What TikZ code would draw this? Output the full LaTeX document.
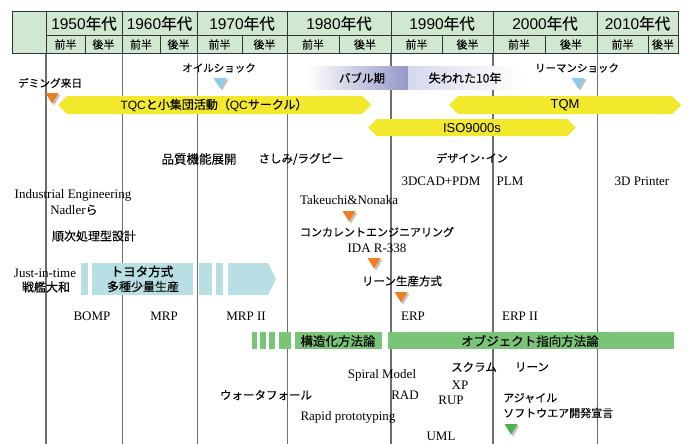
\documentclass[tikz,border=0pt]{standalone}
\usepackage{fontspec}
\setmainfont{Liberation Serif}
\newfontfamily\jp[RawFeature={embolden=0.2}]{Noto Sans CJK JP}
\newfontfamily\jpb[RawFeature={embolden=1.4}]{Noto Sans CJK JP}
\newfontfamily\ar{Liberation Sans}
\newcommand\fsz[1]{\fontsize{#1}{#1}\selectfont}
\definecolor{hdr}{HTML}{CFE8CF}
\definecolor{vline}{HTML}{6E6E6E}
\definecolor{ylw}{HTML}{F2E82C}
\definecolor{orng}{HTML}{EE7F22}
\definecolor{lblue}{HTML}{8ECBEA}
\definecolor{grn}{HTML}{7AC477}
\definecolor{dgrn}{HTML}{4CAF50}
\definecolor{toyo}{HTML}{B7DFE4}
\definecolor{bub}{HTML}{9498C9}
\definecolor{bubl}{HTML}{D6D8ED}
\definecolor{bubm}{HTML}{AEB2D8}
\tikzset{
  hline/.style={draw=black!80, line width=0.9pt},
  dec/.style={font=\ar\fsz{15.5}, inner sep=0pt},
  half/.style={font=\jp\fsz{11}, inner sep=0pt},
  jl/.style={font=\jp\fsz{11.5}, inner sep=0pt},
  jk/.style={font=\jp\fsz{12.5}, inner sep=0pt},
  en/.style={font=\fsz{13}, inner sep=0pt},
  bartext/.style={font=\jp\fsz{12.5}, inner sep=0pt},
  thinv/.style={draw=vline, line width=0.9pt},
  thickv/.style={draw=vline, line width=1.7pt},
}
\newcommand\tri[3]{% x, ytop, color
  \fill[black, opacity=0.25] (#1-4.5,#2+1.5) -- (#1+8.5,#2+1.5) -- (#1+2,#2+12.5) -- cycle;
  \fill[#3] (#1-6.5,#2) -- (#1+6.5,#2) -- (#1,#2+10.5) -- cycle;}
\newcommand\dbar[5]{% x1,x2,ytop,ybot,color
  \fill[#5] (#1,{(#3+#4)/2}) -- (#1+9,#3) -- (#2-9,#3) -- (#2,{(#3+#4)/2}) -- (#2-9,#4) -- (#1+9,#4) -- cycle;}
\begin{document}
\begin{tikzpicture}[x=1pt,y=-1pt]
\useasboundingbox (0,0) rectangle (688,444);
\fill[white] (0,0) rectangle (688,444);

% vertical timeline lines
\draw[thickv] (46,53) -- (46,444);
\draw[thinv] (122,53) -- (122,444);
\draw[thinv] (197,53) -- (197,444);
\draw[thinv] (287,53) -- (287,444);
\draw[thickv] (391,53) -- (391,444);
\draw[thickv] (493,53) -- (493,444);
\draw[thinv] (597,53) -- (597,444);

% header
\fill[hdr] (12,11) rectangle (678,53);
\draw[hline] (12,11) rectangle (678,53);
\draw[hline] (46,35) -- (678,35);
\foreach \x in {46,122,197,287,391,493,597} \draw[hline] (\x,11) -- (\x,53);
\foreach \x in {85,160,242,339,442,545,648} \draw[hline] (\x,35) -- (\x,53);
\node[dec] (d50) at (84,23.5) {1950{\jp 年代}};
\node[dec] (d60) at (159.5,23.5) {1960{\jp 年代}};
\node[dec] (d70) at (242,23.5) {1970{\jp 年代}};
\node[dec] (d80) at (339,23.5) {1980{\jp 年代}};
\node[dec] (d90) at (442,23.5) {1990{\jp 年代}};
\node[dec] (d00) at (545,23.5) {2000{\jp 年代}};
\node[dec] (d10) at (637.5,23.5) {2010{\jp 年代}};
\node[half] (h1) at (65.5,44.5) {前半};
\node[half] (h2) at (103.5,44.5) {後半};
\node[half] (h3) at (141,44.5) {前半};
\node[half] (h4) at (178.5,44.5) {後半};
\node[half] (h5) at (219.5,44.5) {前半};
\node[half] (h6) at (264.5,44.5) {後半};
\node[half] (h7) at (313,44.5) {前半};
\node[half] (h8) at (365,44.5) {後半};
\node[half] (h9) at (416.5,44.5) {前半};
\node[half] (h10) at (467.5,44.5) {後半};
\node[half] (h11) at (519,44.5) {前半};
\node[half] (h12) at (571,44.5) {後半};
\node[half] (h13) at (622.5,44.5) {前半};
\node[half] (h14) at (663,44.5) {後半};

% bubble / lost decade band
\shade[left color=white, right color=bub] (307,67) rectangle (408,89);
\shade[left color=bubl, middle color=bubm, right color=white] (408,67) rectangle (523,89);
\node[jl, font=\jp\fsz{11.5}] (bubble) at (362,78) {バブル期};
\node[jl, font=\jp\fsz{12}] (lost) at (465,78) {失われた10年};

% event labels + triangles
\node[jl, font=\jp\fsz{10.7}] (deming) at (50,83) {デミング来日};
\tri{52}{93}{orng}
\node[jl, font=\jp\fsz{10.5}] (oil) at (219,68) {オイルショック};
\tri{220}{78}{lblue}
\node[jl, font=\jp\fsz{10.5}] (lehman) at (577,68) {リーマンショック};
\tri{578}{78}{lblue}

% yellow bars
\dbar{58}{371}{96}{114}{ylw}
\node[bartext, font=\jp\fsz{12}] (tqc) at (214,105) {{\ar TQC}と小集団活動（{\ar QC}サークル）};
\dbar{449}{681}{96}{114}{ylw}
\node[bartext, font=\ar\fsz{13}] (tqm) at (565,105) {TQM};
\dbar{368}{576}{119}{136}{ylw}
\node[bartext, font=\ar\fsz{13}] (iso) at (472,128) {ISO9000s};

% design methods
\node[jk] (qfd) at (199,159) {品質機能展開};
\node[jl] (sashimi) at (301,159) {さしみ/ラグビー};
\node[jl, font=\jp\fsz{11}] (designin) at (472,158) {デザイン･イン};
\node[en] (cad) at (441,181) {3DCAD+PDM};
\node[en] (plm) at (510,181) {PLM};
\node[en] (printer) at (642,181) {3D Printer};
\node[en] (ie) at (73,195) {Industrial Engineering};
\node[en] (nadler) at (74,210) {Nadler{\jp\fsz{12}ら}};
\node[jk, font=\jp\fsz{12}] (seq) at (94,236) {順次処理型設計};
\node[en] (tn) at (349,200) {Takeuchi\&Nonaka};
\tri{349}{211}{orng}
\node[jl, font=\jp\fsz{11}] (ce) at (377,232) {コンカレントエンジニアリング};
\node[en] (ida) at (377,248) {IDA R-338};
\tri{374}{258}{orng}
\node[jl] (lean) at (402,281) {リーン生産方式};
\tri{401}{292}{orng}

% Toyota band
\fill[toyo] (81,263) rectangle (88,295);
\fill[toyo] (92,263) rectangle (193,295);
\fill[toyo] (199,263) rectangle (212,295);
\fill[toyo] (216,263) rectangle (223,295);
\fill[toyo] (228,263) -- (268,263) -- (276,279) -- (268,295) -- (228,295) -- cycle;
\node[en] (jit) at (45,273) {Just-in-time};
\node[jk, font=\jp\fsz{12}] (yamato) at (46,287) {戦艦大和};
\node[jk, font=\jpb\fsz{12.5}] (toyota) at (142,271.5) {トヨタ方式};
\node[jk, font=\jp\fsz{12}] (tashu) at (143,286.5) {多種少量生産};

% production planning
\node[en] (bomp) at (92,316) {BOMP};
\node[en] (mrp) at (164,316) {MRP};
\node[en] (mrp2) at (246,316) {MRP II};
\node[en] (erp) at (413,316) {ERP};
\node[en] (erp2) at (520,316) {ERP II};

% green bars
\fill[grn] (252,332) rectangle (257,349);
\fill[grn] (260,332) rectangle (266,349);
\fill[grn] (269,332) rectangle (275,349);
\fill[grn] (279,332) rectangle (291,349);
\fill[grn] (295,332) rectangle (382,349);
\fill[grn] (388,332) rectangle (674,349);
\node[bartext] (struct) at (338,341) {構造化方法論};
\node[bartext] (oo) at (530,341) {オブジェクト指向方法論};

% software dev
\node[jl] (scrum) at (474,367) {スクラム};
\node[jl] (lean2) at (532,367) {リーン};
\node[en] (spiral) at (382,375) {Spiral Model};
\node[en] (xp) at (460,385) {XP};
\node[jl] (wf) at (266,395) {ウォータフォール};
\node[en] (rad) at (405,395) {RAD};
\node[en] (rup) at (451,400) {RUP};
\node[jl, font=\jp\fsz{11}, anchor=west] (agile) at (503,398) {アジャイル};
\node[jl, font=\jp\fsz{11}, anchor=west] (manifesto) at (503,413) {ソフトウエア開発宣言};
\node[en] (rp) at (348,417) {Rapid prototyping};
\node[en] (uml) at (441,436) {UML};
\tri{511}{424}{dgrn}
\end{tikzpicture}
\end{document}
